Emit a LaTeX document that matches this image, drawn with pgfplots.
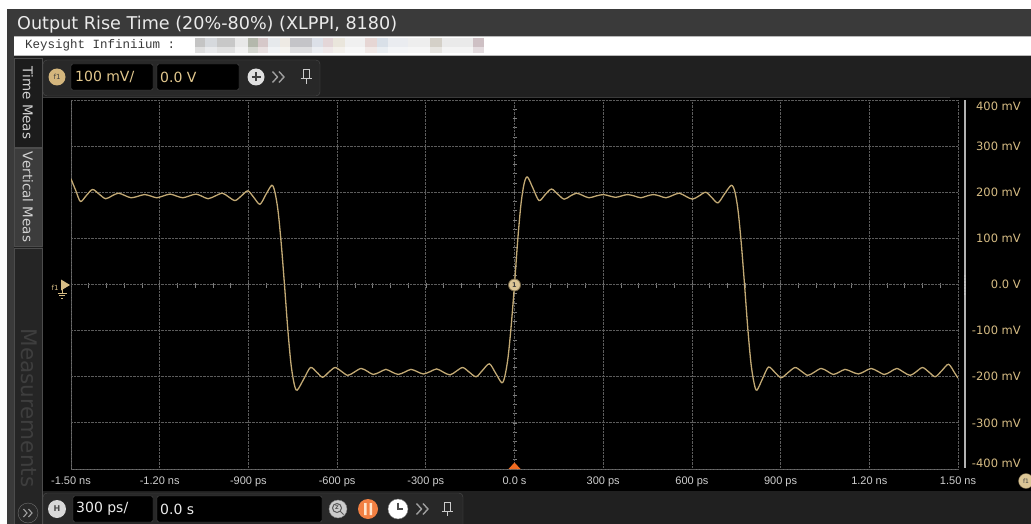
\documentclass[border=0pt]{standalone}
\usepackage{pgfplots}
\pgfplotsset{compat=1.18}
\usepackage{fontspec}
\setmainfont{DejaVu Sans}
\newfontfamily\libsans{Liberation Sans}
\newfontfamily\libmono{Liberation Mono}

\definecolor{titlebar}{HTML}{3A3A3A}
\definecolor{panel}{HTML}{202020}
\definecolor{panelb}{HTML}{282828}
\definecolor{edgec}{HTML}{4C4C4C}
\definecolor{gold}{HTML}{D6BC84}
\definecolor{goldtxt}{HTML}{E2C88E}
\definecolor{trace}{HTML}{C2A974}
\definecolor{gridc}{HTML}{5C5C5C}
\definecolor{framec}{HTML}{707070}
\definecolor{tickc}{HTML}{7E7E7E}
\definecolor{xlab}{HTML}{CFCFCF}
\definecolor{tabdark}{HTML}{1C1C1C}
\definecolor{tablight}{HTML}{3C3C3C}
\definecolor{measbg}{HTML}{252525}
\definecolor{meastxt}{HTML}{3E3E3E}
\definecolor{trigorange}{HTML}{F06A20}

\begin{document}
\begin{tikzpicture}
\useasboundingbox (0,0) rectangle (1031pt,-524pt);
\begin{scope}[x=1pt,y=-1pt]
  % window
  \fill[white] (0,0) rectangle (1031,524);
  \fill[titlebar] (7,9) rectangle (1031,36);
  \node[anchor=base west, inner sep=0pt, text=white!92!black,
        font=\fontsize{17.6}{19}\selectfont] at (17,30) {Output Rise Time (20\%-80\%) (XLPPI, 8180)};
  \fill[titlebar] (7,36) rectangle (14,524);
  \fill[white] (14,37) rectangle (1031,55);
  \draw[gray!55] (14,36.5) -- (1031,36.5);
  \draw[gray!55] (14,55.5) -- (1031,55.5);
  \node[anchor=base west, inner sep=0pt, text=black!78,
        font=\libmono\fontsize{12.5}{14}\selectfont] at (25,49) {Keysight Infiniium :};
  % pixelated (redacted) part of the header
  \foreach \a/\b/\c in {195/205/C4C4C4,205/217/D6D9DD,217/235/C8C8C8,235/248/E8E8E8,
      248/258/B4B8AC,258/268/D6C8C9,268/280/E6E9EC,280/290/EEEAE4,290/312/C4C4C8,
      312/323/DCE0E8,323/333/E4D6D8,333/345/EAE6DC,345/365/F0F0F0,365/377/E6D6D4,
      377/388/D9E0E8,388/408/EAECF0,408/430/EEEEEE,430/442/D4D0C8,442/473/EAEAEA,473/484/CEC0C4}{
    \definecolor{tmp}{HTML}{\c}
    \fill[tmp] (\a,38) rectangle (\b,47);
    \fill[tmp!55!white] (\a,47) rectangle (\b,53);
  }
  % dark body
  \fill[panel] (14,56) rectangle (1031,524);
  \fill[black] (43,98) rectangle (1031,491);
  \draw[titlebar] (43,97.5) -- (950,97.5);
  % side tabs
  \filldraw[fill=tabdark, draw=edgec] (14,58) rectangle (42,147);
  \node[rotate=-90, text=white!82!black, font=\fontsize{13.5}{15}\selectfont] at (28,103) {Time Meas};
  \filldraw[fill=tablight, draw=edgec] (14,148) rectangle (42,246);
  \node[rotate=-90, text=white!82!black, font=\fontsize{13.5}{15}\selectfont] at (28,197) {Vertical Meas};
  \filldraw[fill=measbg, draw=edgec] (14,248) rectangle (42,530);
  \node[rotate=-90, text=meastxt, font=\fontsize{21.5}{23}\selectfont] at (29,408) {Measurements};
  \filldraw[fill=panelb, draw=edgec!80!white] (28,513) circle (10);
  \draw[gray!75, line width=1.1pt] (23.5,509) -- (27,513) -- (23.5,517) (28.5,509) -- (32,513) -- (28.5,517);
  % top toolbar
  \filldraw[fill=panelb, draw=edgec, rounded corners=4pt] (43,60) rectangle (320,96);
  \fill[gold!90!brown] (57,77) circle (8.5);
  \node[text=black!75, font=\fontsize{7}{7}\selectfont] at (57,77) {f1};
  \filldraw[fill=black, draw=edgec, rounded corners=2pt] (71,64) rectangle (153,90);
  \node[anchor=west, inner sep=0pt, text=goldtxt, font=\fontsize{14}{15}\selectfont] at (75,77) {100 mV/};
  \filldraw[fill=black, draw=edgec, rounded corners=2pt] (157,64) rectangle (239,90);
  \node[anchor=west, inner sep=0pt, text=goldtxt, font=\fontsize{14}{15}\selectfont] at (160,77) {0.0 V};
  \fill[white!88!black] (256,77) circle (8.5);
  \draw[black!75, line width=1.6pt] (251.5,77) -- (260.5,77) (256,72.5) -- (256,81.5);
  \draw[gray!75, line width=1.4pt] (272.5,71.5) -- (277.5,77) -- (272.5,82.5) (279,71.5) -- (284,77) -- (279,82.5);
  \draw[white!80!black, line width=1pt] (303,70) rectangle (309,79) (300.5,79) -- (311.5,79) (306,79) -- (306,84);
  % bottom toolbar
  \fill[panel] (43,491) rectangle (1031,524);
  \filldraw[fill=panelb, draw=edgec, rounded corners=4pt] (43,493) rectangle (463,530);
  \fill[white!85!black] (57,509) circle (9);
  \node[text=black!70, font=\bfseries\fontsize{8}{8}\selectfont] at (57,509) {H};
  \filldraw[fill=black, draw=edgec, rounded corners=2pt] (73,496) rectangle (153,522);
  \node[anchor=west, inner sep=0pt, text=white!92!black, font=\fontsize{14}{15}\selectfont] at (76,509) {300 ps/};
  \filldraw[fill=black, draw=edgec, rounded corners=2pt] (157,496) rectangle (322,522);
  \node[anchor=west, inner sep=0pt, text=white!92!black, font=\fontsize{14}{15}\selectfont] at (160,509) {0.0 s};
  \filldraw[fill=white!80!black, draw=gray] (338,509) circle (9);
  \draw[black!65, line width=1pt] (337,508) circle (4.5) (340.5,511.5) -- (343.5,514.5);
  \node[text=black!70, font=\bfseries\fontsize{5}{5}\selectfont] at (337,508) {Z};
  \fill[trigorange!85!white] (368,509) circle (10);
  \fill[white!80!orange] (364,503) rectangle (366.5,515) (369.5,503) rectangle (372,515);
  \filldraw[fill=white, draw=gray] (398,509) circle (10);
  \draw[black!70, line width=1.2pt] (398,502.5) -- (398,509) -- (403,509);
  \draw[gray!75, line width=1.4pt] (416.5,503.5) -- (421.5,509) -- (416.5,514.5) (423,503.5) -- (428,509) -- (423,514.5);
  \draw[white!80!black, line width=1pt] (444,502) rectangle (450,511) (441.5,511) -- (452.5,511) (447,511) -- (447,516);
  % screen frame, centre cross ticks, right bar
  \draw[framec, line width=1pt] (71,100) -- (71,469) -- (958,469);
  \foreach \i in {1,...,49} {\draw[tickc, line width=0.6pt] ({71+\i*17.74},282.5) -- ({71+\i*17.74},287.5);}
  \foreach \j in {1,...,39} {\draw[tickc, line width=0.6pt] (512.5,{100+\j*9.225}) -- (516.5,{100+\j*9.225});}
  \fill[gray!60] (963.5,100) rectangle (966,468);
  \foreach \k in {0,...,6} {\fill[white!85!black] (964.8,{276+\k*3}) circle (0.7);}
\end{scope}

\begin{axis}[
  at={(71pt,-469pt)}, anchor=south west,
  scale only axis, width=887pt, height=369pt,
  xmin=-1500, xmax=1500, ymin=-400, ymax=400,
  xtick={-1500,-1200,...,1500},
  xticklabels={-1.50 ns,-1.20 ns,-900 ps,-600 ps,-300 ps,0.0 s,300 ps,600 ps,900 ps,1.20 ns,1.50 ns},
  ytick={-400,-300,...,400},
  yticklabels={{\raisebox{5.5pt}[\height][\depth]{-400 mV}},-300 mV,-200 mV,-100 mV,0.0 V,100 mV,200 mV,300 mV,{\raisebox{-6.5pt}[\height][\depth]{400 mV}}},
  yticklabel pos=right,
  grid=major,
  major grid style={densely dotted, gridc, line width=0.8pt},
  axis line style={draw=none},
  major tick length=0pt,
  x tick label style={anchor=base, yshift=-15.5pt, inner sep=0pt, text=xlab, font=\libsans\fontsize{11}{13}\selectfont},
  y tick label style={anchor=east, xshift=63pt, inner sep=0pt, text=gold, font=\fontsize{11.5}{13}\selectfont},
]
\addplot[smooth, tension=0.5, trace, line width=1.3pt] coordinates {
  (-1500,229) (-1484,204) (-1468,180) (-1448,193) (-1427,206) (-1405,196) (-1383,186)
  (-1362,192) (-1340,198) (-1318,193) (-1297,188) (-1275,191) (-1252,195) (-1231,192)
  (-1210,188) (-1188,192) (-1165,196) (-1144,192) (-1122,188) (-1100,192) (-1077,196)
  (-1056,191) (-1036,186) (-1012,192) (-988,198) (-967,190) (-945,182) (-924,192)
  (-902,203) (-882,189) (-861,174) (-841,195) (-821,215)
  (-811,202) (-800,161) (-789,89) (-778,0) (-767,-95) (-756,-172) (-745,-216) (-735,-229)
  (-712,-204) (-690,-180) (-669,-190) (-649,-201) (-628,-190) (-607,-180) (-586,-188)
  (-564,-197) (-542,-190) (-519,-182) (-498,-188) (-478,-195) (-456,-190) (-435,-184)
  (-414,-190) (-393,-195) (-372,-190) (-350,-184) (-329,-189) (-308,-194) (-286,-189)
  (-263,-183) (-241,-190) (-218,-196) (-197,-188) (-175,-180) (-153,-190) (-130,-200)
  (-108,-186) (-85,-172) (-64,-192) (-43,-213)
  (-33,-200) (-22,-159) (-11,-88) (0,0) (11,97) (22,175) (33,220) (44,233)
  (63,208) (83,182) (104,195) (125,207) (146,196) (168,185) (189,192) (210,198)
  (231,193) (252,188) (276,192) (300,195) (321,192) (342,189) (362,192) (382,195)
  (405,192) (427,188) (448,192) (470,195) (491,192) (512,188) (534,193) (557,198)
  (580,191) (602,185) (624,192) (647,200) (668,188) (688,177) (710,196) (733,215)
  (745,202) (756,161) (767,89) (778,0) (789,-95) (800,-172) (811,-216) (820,-229)
  (839,-204) (859,-179) (880,-190) (902,-202) (925,-191) (949,-180) (970,-188)
  (992,-197) (1014,-190) (1037,-182) (1058,-188) (1078,-195) (1098,-190) (1118,-184)
  (1140,-189) (1163,-194) (1185,-188) (1206,-182) (1228,-188) (1251,-195) (1272,-189)
  (1293,-182) (1316,-190) (1338,-197) (1359,-189) (1380,-180) (1402,-190) (1423,-200)
  (1445,-187) (1468,-173) (1489,-192) (1500,-203)
};
\end{axis}

\begin{scope}[x=1pt,y=-1pt]
  % markers on the screen
  \fill[trigorange] (514.5,462.5) -- (508.5,469) -- (520.5,469) -- cycle;
  \filldraw[fill=gold!85!white, draw=gold!55!black, line width=0.8pt] (514.5,285) circle (6);
  \node[text=black!75, font=\bfseries\fontsize{6.5}{6.5}\selectfont] at (514.5,285) {1};
  \node[text=gold, font=\fontsize{7}{7}\selectfont, inner sep=0pt] at (55,288) {f1};
  \fill[gold] (61,279.5) -- (70,285) -- (61,290.5) -- cycle;
  \draw[gold, line width=0.9pt] (62,285) -- (62,293) (57.5,293) -- (66.5,293) (59,295.5) -- (65,295.5) (60.8,298) -- (63.2,298);
  \filldraw[fill=gold!85!white, draw=gold!55!black] (1026,481) circle (7.5);
  \node[text=black!75, font=\fontsize{6}{6}\selectfont] at (1026,481) {f1};
\end{scope}
\end{tikzpicture}
\end{document}
